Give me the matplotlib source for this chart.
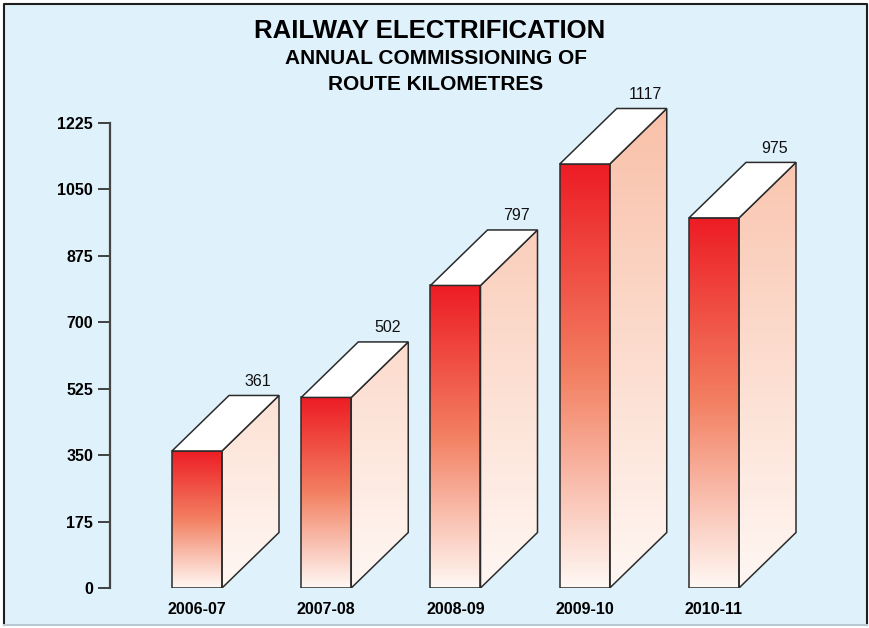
import numpy as np
import matplotlib
matplotlib.use("Agg")
import matplotlib.pyplot as plt
from matplotlib.patches import Polygon, Rectangle
from matplotlib.lines import Line2D

# Route kilometres commissioned per year
years = ["2006-07", "2007-08", "2008-09", "2009-10", "2010-11"]
route_km = [361, 502, 797, 1117, 975]
yticks = [0, 175, 350, 525, 700, 875, 1050, 1225]

W, H = 870, 628
fig = plt.figure(figsize=(W / 100, H / 100), dpi=100)
fig.patch.set_facecolor("white")

# light-blue panel with a dark frame on three sides
L, R, B, T = 4 / W, 867 / W, 3 / H, 624 / H
fig.add_artist(Rectangle((L, B), R - L, T - B, transform=fig.transFigure,
                         facecolor="#dff1fb", edgecolor="none", zorder=-5))
fig.add_artist(Line2D([L, L, R, R], [B, T, T, B], transform=fig.transFigure,
                      color="#1e1e1e", lw=1.5, zorder=-4))
fig.add_artist(Line2D([L, R], [B, B], transform=fig.transFigure,
                      color="#b9c9d4", lw=1.5, zorder=-4))

px_per_unit = 465 / 1225
ymax = 1300
ax_h = ymax * px_per_unit
ax = fig.add_axes([110.5 / W, 40 / H, 749.5 / W, ax_h / H])
ax.set_facecolor("none")
ax.set_zorder(1)

step = 129.25                      # pixels between bar slots
x0 = -(197 - 110.5) / step
ax.set_xlim(x0, x0 + 749.5 / step)
ax.set_ylim(0, ymax)

half_w = 25 / step
dx = 57 / step
dy = 55.5 / px_per_unit
edge = "#2b2b2b"
lw = 1.1


def ramp(stops, n):
    t = np.linspace(0, 1, n)
    pos = np.linspace(0, 1, len(stops))
    arr = np.array(stops, dtype=float) / 255
    return np.stack([np.interp(t, pos, arr[:, k]) for k in range(3)], axis=-1)


front_stops = [(237, 28, 36), (243, 128, 98), (255, 248, 244)]   # top -> bottom
side_top, side_bot = np.array([249, 192, 168]), np.array([255, 247, 243])
side_ref = 1263

for i, v in enumerate(route_km):
    xl, xr = i - half_w, i + half_w
    # front face: red fading to white
    img = ramp(front_stops, 256)[:, None, :]
    ax.imshow(img, extent=[xl, xr, 0, v], origin="upper", aspect="auto",
              interpolation="bilinear", zorder=2)
    ax.add_patch(Rectangle((xl, 0), xr - xl, v, fill=False, edgecolor=edge, lw=lw, zorder=4))

    # side face: salmon shade tied to height
    side = Polygon([(xr, 0), (xr + dx, dy), (xr + dx, v + dy), (xr, v)], closed=True,
                   facecolor="none", edgecolor=edge, lw=lw, zorder=4)
    ax.add_patch(side)
    ys = np.linspace(v + dy, 0, 256)
    f = np.clip(ys / side_ref, 0, 1)[:, None]
    simg = ((side_bot + (side_top - side_bot) * f) / 255)[:, None, :]
    im = ax.imshow(simg, extent=[xr, xr + dx, 0, v + dy], origin="upper", aspect="auto",
                   interpolation="bilinear", zorder=2)
    im.set_clip_path(side)

    # top face
    ax.add_patch(Polygon([(xl, v), (xr, v), (xr + dx, v + dy), (xl + dx, v + dy)], closed=True,
                         facecolor="white", edgecolor=edge, lw=lw, zorder=4))

    ax.annotate(f"{v}", xy=(xr + dx, v + dy), xytext=(-21 / 1.389, 14 / 1.389),
                textcoords="offset points", ha="center", va="center",
                fontsize=11.5, family="Liberation Sans", color="#111111",
                annotation_clip=False, zorder=5)

ax.set_xlim(x0, x0 + 749.5 / step)
ax.set_ylim(0, ymax)

for s in ["top", "right", "bottom"]:
    ax.spines[s].set_visible(False)
ax.spines["left"].set_bounds(0, 1225)
ax.spines["left"].set_color("#444444")
ax.spines["left"].set_linewidth(1.6)
ax.set_yticks(yticks)
ax.set_yticklabels([str(t) for t in yticks], fontsize=11.5, fontweight="bold",
                   family="Liberation Sans")
ax.tick_params(axis="y", length=9, width=1.3, color="#333333", pad=3.5)
ax.set_xticks(range(len(years)))
ax.set_xticklabels(years, fontsize=11.5, fontweight="bold", family="Liberation Sans")
ax.tick_params(axis="x", length=0, pad=10)

fig.text(430 / W, 1 - 31 / H, "RAILWAY ELECTRIFICATION", ha="center", va="center",
         fontsize=18.5, fontweight="bold", family="Liberation Sans")
fig.text(436 / W, 1 - 58 / H, "ANNUAL COMMISSIONING OF", ha="center", va="center",
         fontsize=15, fontweight="bold", family="Liberation Sans")
fig.text(436 / W, 1 - 85 / H, "ROUTE KILOMETRES", ha="center", va="center",
         fontsize=15, fontweight="bold", family="Liberation Sans")

fig.savefig("out.png", dpi=100, facecolor=fig.get_facecolor())
